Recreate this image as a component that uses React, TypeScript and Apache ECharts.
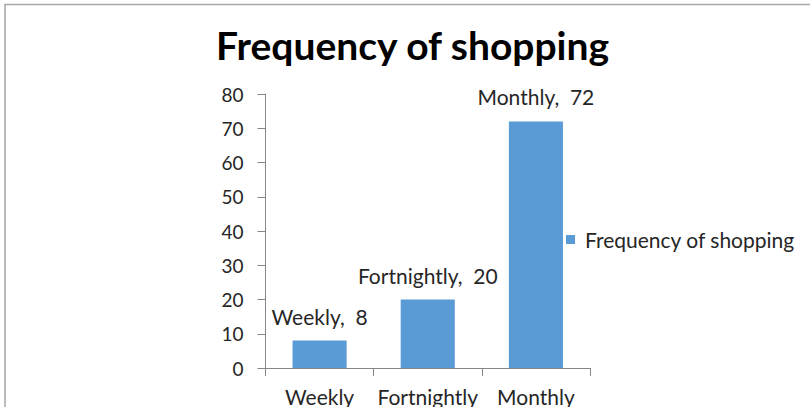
import React, { useEffect, useRef } from "react";
import * as echarts from "echarts";

const categories = ["Weekly", "Fortnightly", "Monthly"];
const values = [8, 20, 72];
const seriesName = "Frequency of shopping";
const titleText = "Frequency of shopping";

export default function App() {
  const ref = useRef<HTMLDivElement>(null);
  useEffect(() => {
    if (!ref.current) return;
    const chart = echarts.init(ref.current, undefined, { renderer: "svg" });
    const font = "Lato";
    chart.setOption({
      animation: false,
      backgroundColor: "#ffffff",
      title: {
        text: titleText,
        left: 216,
        top: 25,
        padding: 0,
        textStyle: { fontFamily: font, fontSize: 39, fontWeight: "bold", color: "#000000" },
      },
      legend: {
        left: 566,
        top: 229,
        padding: 0,
        icon: "rect",
        itemWidth: 9,
        itemHeight: 9,
        textStyle: { fontFamily: font, fontSize: 21, color: "#262626", padding: [0, 0, 0, 5] },
        data: [seriesName],
      },
      grid: { left: 265.5, right: 220, top: 94, bottom: 39, containLabel: false },
      xAxis: {
        type: "category",
        data: categories,
        axisLine: { lineStyle: { color: "#868686", width: 1 } },
        axisTick: { show: true, length: 8, lineStyle: { color: "#868686" } },
        axisLabel: { fontFamily: font, fontSize: 21, color: "#262626", margin: 18, interval: 0 },
      },
      yAxis: {
        type: "value",
        min: 0,
        max: 80,
        interval: 10,
        axisLine: { show: true, lineStyle: { color: "#868686", width: 1 } },
        axisTick: { show: true, length: 8, lineStyle: { color: "#868686" } },
        splitLine: { show: false },
        axisLabel: { fontFamily: font, fontSize: 19, color: "#262626", margin: 22 },
      },
      series: [
        {
          name: seriesName,
          type: "bar",
          data: values,
          barWidth: "50%",
          itemStyle: { color: "#5B9BD5" },
          label: {
            show: true,
            position: "top",
            distance: 14,
            formatter: "{b},  {c}",
            fontFamily: font,
            fontSize: 21,
            color: "#262626",
          },
        },
      ],
      graphic: [
        {
          type: "rect",
          shape: { x: 5, y: 4.5, width: 900, height: 500 },
          style: { fill: "none", stroke: "#a6a6a6", lineWidth: 1.5 },
          silent: true,
        },
      ],
    });
    return () => chart.dispose();
  }, []);
  return (
    <div
      ref={ref}
      style={{ position: "absolute", left: 0, top: 0, width: 810, height: 407 }}
    />
  );
}
